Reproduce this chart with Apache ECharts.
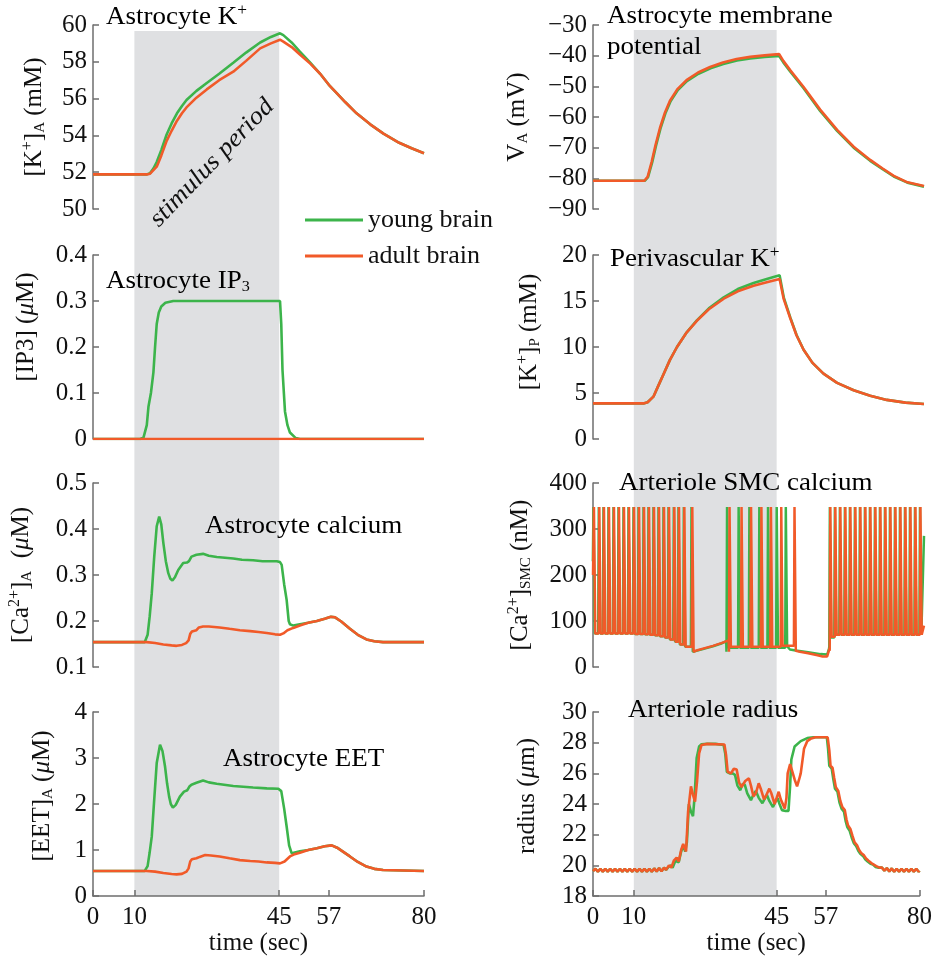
<!DOCTYPE html>
<html>
<head>
<meta charset="utf-8">
<script src="https://cdn.jsdelivr.net/npm/echarts@6/dist/echarts.min.js"></script>
<style>
  html, body { margin: 0; padding: 0; background: #fff; }
  #main { width: 935px; height: 958px; }
</style>
</head>
<body>
<div id="main"></div>
<script>
// ---- data: [time (s), value] ----
const timeTicks = [0, 10, 45, 57, 80];
const stimulus = [10, 45];

const kA_young = [[0,51.88],[13,51.88],[13.8,51.95],[14.6,52.2],[15.4,52.55],[16.5,53.2],[17.8,54.05],[19,54.65],[20.3,55.2],[21.5,55.6],[22.6,55.92],[25,56.42],[27.5,56.85],[30.5,57.35],[33.9,57.95],[37,58.5],[40.4,59.05],[43,59.35],[45.2,59.55],[46,59.45],[48,59.05],[50,58.55],[52.5,57.95],[54.9,57.35],[57,56.75],[58.9,56.3],[61,55.8],[63.7,55.2],[67,54.6],[70.2,54.1],[74,53.6],[77,53.3],[80,53.03]];
const kA_adult = [[0,51.88],[13,51.88],[13.8,51.92],[15.4,52.3],[16.5,52.9],[17.8,53.7],[19,54.25],[20.3,54.8],[21.5,55.2],[22.6,55.52],[25,56.05],[27.5,56.5],[30.5,57.0],[33.9,57.46],[37,58.05],[40.4,58.73],[43,59.0],[45.2,59.2],[46,59.1],[48,58.8],[50,58.4],[52.5,57.9],[54.9,57.35],[57,56.75],[58.9,56.3],[61,55.8],[63.7,55.2],[67,54.6],[70.2,54.1],[74,53.6],[77,53.3],[80,53.03]];

const vA_young = [[0,-80.8],[12.5,-80.8],[13.3,-79.6],[14.3,-74.8],[15.2,-69.5],[16.3,-63.8],[17.5,-58.8],[18.7,-55.0],[20.5,-51.2],[22.7,-48.3],[25.5,-45.9],[28.4,-44.1],[31.5,-42.7],[34.8,-41.6],[38,-40.9],[41.5,-40.4],[45,-40.1],[46,-42.2],[47.7,-45.2],[50.9,-50.6],[54.9,-58.0],[59,-64.5],[63,-70.0],[67,-74.3],[70,-77.0],[72.7,-79.4],[76,-81.4],[80,-82.7]];
const vA_adult = [[0,-80.8],[12.4,-80.8],[13.2,-79.5],[14.2,-74.5],[15.1,-69.2],[16.2,-63.5],[17.4,-58.5],[18.6,-54.7],[20.4,-50.9],[22.6,-48.0],[25.4,-45.5],[28.3,-43.7],[31.4,-42.2],[34.7,-41.1],[38,-40.4],[41.5,-39.9],[45,-39.5],[46,-41.7],[47.7,-44.8],[50.9,-50.2],[54.9,-57.6],[59,-64.2],[63,-69.7],[67,-74.0],[70,-76.8],[72.7,-79.2],[76,-81.3],[80,-82.5]];

const ip3_young = [[0,0],[11.4,0],[12.2,0.003],[13,0.03],[13.4,0.07],[14,0.1],[14.6,0.145],[15,0.2],[15.4,0.25],[15.9,0.275],[16.5,0.288],[17.5,0.296],[19.4,0.3],[45.2,0.3],[45.5,0.25],[45.8,0.15],[46.4,0.06],[47,0.03],[47.6,0.014],[49,0.002],[50,0],[80,0]];
const ip3_adult = [[0,0],[80,0]];

const kP_young = [[0,3.87],[12.2,3.87],[13.2,4.0],[14.6,4.6],[15.8,5.8],[17.1,7.1],[18.6,8.6],[20.3,10.0],[22.5,11.5],[25.1,12.9],[28,14.2],[31.6,15.4],[35,16.3],[38.8,16.95],[42,17.4],[45.1,17.8],[46.1,15.4],[47.7,13.2],[49.2,11.3],[50.9,9.7],[53,8.3],[55.7,7.1],[59,6.1],[63,5.3],[67,4.7],[71,4.25],[75.5,3.95],[80,3.8]];
const kP_adult = [[0,3.87],[12.2,3.87],[13.2,4.0],[14.6,4.6],[15.8,5.8],[17.1,7.1],[18.6,8.6],[20.3,10.0],[22.5,11.5],[25.1,12.85],[28,14.1],[31.6,15.25],[35,16.05],[38.8,16.65],[42,17.05],[45.1,17.4],[46.1,15.2],[47.7,13.1],[49.2,11.25],[50.9,9.7],[53,8.3],[55.7,7.1],[59,6.1],[63,5.3],[67,4.7],[71,4.25],[75.5,3.95],[80,3.8]];

const caA_young = [[0,0.154],[12.5,0.154],[13.2,0.17],[13.7,0.21],[14.2,0.26],[14.8,0.34],[15.4,0.406],[16.0,0.427],[16.5,0.41],[17.0,0.37],[17.6,0.33],[18.2,0.304],[18.7,0.292],[19.2,0.288],[19.8,0.295],[20.6,0.311],[21.8,0.326],[22.7,0.327],[23.2,0.33],[23.8,0.34],[25,0.344],[26.6,0.346],[28,0.342],[29.9,0.339],[33.9,0.336],[36,0.333],[38.7,0.332],[41,0.33],[44.4,0.33],[45.2,0.328],[45.6,0.322],[46.2,0.28],[46.8,0.246],[47.3,0.2],[47.6,0.193],[48.4,0.19],[50,0.193],[52,0.196],[54.1,0.2],[56,0.205],[57.5,0.209],[58.5,0.208],[60,0.199],[62.1,0.183],[64,0.17],[66.1,0.16],[68,0.156],[70.1,0.154],[80,0.154]];
const caA_adult = [[0,0.154],[13,0.154],[15,0.152],[17,0.149],[19,0.147],[20.2,0.146],[21.5,0.148],[22.5,0.152],[23.1,0.158],[23.5,0.172],[23.9,0.177],[25,0.18],[25.6,0.186],[26.6,0.188],[28,0.188],[30.6,0.186],[33,0.183],[35.5,0.18],[38,0.178],[40,0.176],[42,0.174],[44,0.171],[45.2,0.17],[46,0.173],[47,0.18],[48.4,0.185],[50,0.19],[52,0.196],[54.1,0.2],[56,0.205],[57.5,0.209],[58.5,0.208],[60,0.199],[62.1,0.183],[64,0.17],[66.1,0.16],[68,0.156],[70.1,0.154],[80,0.154]];

const smcPeak = 348;
// [spike time, trough after spike]
const smcSpikes_adult = [[0.23,73],[1.52,73],[2.65,73],[3.86,73],[5.07,73],[6.28,73],[7.49,73],[8.70,73],[9.91,72],[11.12,72],[12.33,71],[13.53,70],[14.74,69],[15.95,67],[17.16,64],[18.37,60],[19.65,55],[20.78,49],[22.07,44],[24.0,33],
  [33.0,44],[35.9,44],[38.2,44],[40.7,44],[43.0,44],[45.5,46],[48.7,35],
  [57.35,66],[58.56,70],[59.77,70],[60.98,70],[62.19,70],[63.40,70],[64.61,70],[65.82,70],[67.03,70],[68.24,70],[69.45,70],[70.66,70],[71.87,70],[73.08,70],[74.29,70],[75.50,70],[76.71,70],[77.92,70],[79.13,70]];
const smcSpikes_young = [[0.11,73],[1.40,73],[2.53,73],[3.74,73],[4.95,73],[6.16,73],[7.37,73],[8.58,73],[9.79,72],[11.0,72],[12.21,71],[13.41,70],[14.62,69],[15.83,67],[17.04,64],[18.25,60],[19.53,55],[20.66,49],[21.95,44],[23.8,33],
  [32.4,42],[35.2,42],[37.8,42],[40.2,42],[42.3,42],[44.4,42],[46.6,45],
  [57.25,64],[58.46,70],[59.67,70],[60.88,70],[62.09,70],[63.30,70],[64.51,70],[65.72,70],[66.93,70],[68.14,70],[69.35,70],[70.56,70],[71.77,70],[72.98,70],[74.19,70],[75.40,70],[76.61,70],[77.82,70],[79.03,70]];
// slow parts between bursts
const smcQuiet_adult = [[0,200],[25,36],[27,41],[29,46],[31,52],[32.8,58],[50,33],[52,30],[54,26],[55.5,23],[56.6,23],[57.15,40],[80,90]];
const smcQuiet_young = [[0,230],[25,35],[27,40],[29,45],[31,51],[32.2,56],[47.3,44],[47.6,38],[49,36],[52,32],[55,28],[56.6,27],[57.05,40],[79.8,70],[80,285]];

const radiusBaseStart = [[0,19.62],[0.6,19.78],[1.2,19.58],[1.8,19.78],[2.4,19.58],[3.0,19.78],[3.6,19.58],[4.2,19.78],[4.8,19.58],[5.4,19.78],[6.0,19.58],[6.6,19.78],[7.2,19.58],[7.8,19.78],[8.4,19.58],[9.0,19.78],[9.6,19.58],[10.2,19.78],[10.8,19.58],[11.4,19.78],[12.0,19.58],[12.6,19.78],[13.2,19.58],[13.8,19.78],[14.4,19.58],[15.0,19.8],[15.6,19.6],[16.2,19.82],[16.8,19.62],[17.4,19.85],[17.9,19.7]];
const radiusBaseEnd = [[70.8,19.85],[71.4,19.65],[72,19.82],[72.6,19.6],[73.2,19.8],[73.8,19.58],[74.4,19.78],[75,19.58],[75.6,19.78],[76.2,19.58],[76.8,19.78],[77.4,19.58],[78,19.78],[78.6,19.58],[79.2,19.78],[79.8,19.58],[80,19.65]];
const radiusMid_young = [[18.5,19.9],[19.1,20.0],[19.5,19.85],[20.2,20.3],[20.6,20.4],[21.0,20.2],[21.6,20.9],[22.1,21.3],[22.6,20.9],[23.0,21.5],[23.5,24.0],[24.0,23.5],[24.5,23.2],[24.9,24.5],[25.4,27.0],[26.0,27.75],[26.6,27.9],[28,27.92],[30,27.92],[32.0,27.85],[32.4,27.3],[32.8,26.1],[33.5,26.0],[34.2,26.0],[34.8,25.9],[35.4,25.2],[36.1,24.9],[36.6,25.3],[37.2,25.25],[37.8,24.7],[38.7,24.25],[39.3,24.6],[39.9,24.85],[40.6,24.4],[41.5,24.05],[42.0,24.3],[42.6,24.6],[43.2,24.2],[44.1,23.8],[44.6,24.1],[45.2,24.4],[45.7,24.0],[46.3,23.6],[47.2,23.55],[47.9,23.55],[48.3,25.2],[48.6,26.9],[49.4,27.75],[50.9,28.1],[52.5,28.3],[54,28.35],[57.3,28.35],[57.6,27.6],[57.9,26.5],[58.5,26.3],[58.9,25.6],[59.3,25.0],[59.9,24.8],[60.4,24.1],[60.9,23.7],[61.5,23.5],[61.9,22.9],[62.3,22.5],[62.9,22.25],[63.4,21.8],[63.9,21.45],[64.5,21.25],[65.0,20.95],[65.5,20.75],[66.2,20.6],[66.7,20.4],[67.3,20.25],[68,20.1],[68.6,20.05],[69.2,19.9],[70,19.85]];
const radiusMid_adult = [[18.6,20.0],[19.2,19.85],[19.8,20.3],[20.5,20.5],[21.0,20.25],[21.6,21.0],[22.1,21.4],[22.8,20.9],[23.3,23.5],[24.0,25.15],[24.5,24.6],[25.0,24.15],[25.5,25.5],[26.0,27.3],[26.6,27.85],[28,27.92],[32.2,27.88],[32.6,27.2],[33.0,26.1],[33.8,26.0],[34.5,26.3],[35.2,26.25],[35.8,25.4],[36.4,25.1],[37.3,25.5],[38.2,25.68],[38.7,25.2],[39.3,24.5],[39.9,24.7],[40.6,25.35],[41.1,25.0],[41.9,24.3],[42.5,24.6],[43.2,25.0],[43.7,24.7],[44.5,24.0],[45.0,24.4],[45.5,24.8],[46.0,24.3],[47.0,23.7],[47.4,24.4],[47.7,26.0],[48.3,26.6],[48.7,26.5],[49.4,25.6],[50.0,25.15],[50.5,25.6],[50.9,26.0],[51.7,27.6],[52.5,28.1],[53.3,28.25],[54.5,28.35],[57.5,28.35],[57.9,27.5],[58.2,26.5],[58.7,26.35],[59.1,25.7],[59.5,25.1],[60.1,24.85],[60.6,24.2],[61.1,23.8],[61.7,23.6],[62.1,23.0],[62.5,22.6],[63.1,22.35],[63.6,21.9],[64.1,21.5],[64.7,21.3],[65.2,21.0],[65.7,20.8],[66.4,20.65],[66.9,20.45],[67.5,20.3],[68.2,20.15],[68.8,20.05],[69.4,19.95],[70.2,19.85]];

const eet_young = [[0,0.545],[12.5,0.545],[13.2,0.65],[13.7,0.95],[14.2,1.29],[14.8,2.1],[15.4,2.89],[16.2,3.29],[16.8,3.15],[17.4,2.82],[17.9,2.45],[18.4,2.16],[18.8,2.0],[19.3,1.92],[20,1.98],[21,2.16],[22.0,2.27],[22.8,2.30],[23.3,2.38],[23.8,2.42],[25,2.46],[26.6,2.51],[28,2.47],[29.9,2.44],[33.9,2.39],[38.7,2.36],[42,2.34],[44.8,2.33],[45.5,2.28],[46.2,1.9],[46.8,1.51],[47.4,1.1],[48,0.93],[50,0.97],[52,1.0],[54.1,1.04],[56,1.08],[57.7,1.10],[59,1.05],[60.5,0.96],[62.1,0.86],[64,0.74],[66.1,0.64],[68,0.59],[70.1,0.565],[80,0.545]];
const eet_adult = [[0,0.545],[13,0.545],[15,0.53],[17,0.5],[19,0.48],[20.2,0.47],[21.5,0.48],[22.6,0.53],[23.1,0.6],[23.5,0.75],[23.9,0.8],[25,0.82],[25.8,0.85],[27.1,0.89],[28.5,0.88],[30.6,0.86],[33,0.82],[35.5,0.78],[38,0.76],[40,0.75],[42,0.73],[44,0.72],[45.2,0.71],[46.3,0.75],[47.6,0.86],[48.5,0.9],[50,0.94],[52,1.0],[54.1,1.04],[56,1.08],[57.7,1.10],[59,1.05],[60.5,0.96],[62.1,0.86],[64,0.74],[66.1,0.64],[68,0.59],[70.1,0.565],[80,0.545]];

// spike train -> polyline (rise, peak, fall) merged with the slow parts
function spikeLine(spikes, quiet) {
  let pts = quiet.slice();
  let prev = quiet[0][1];
  spikes.forEach(function (s) {
    pts.push([s[0] - 0.14, prev], [s[0], smcPeak], [s[0] + 0.32, s[1]]);
    prev = s[1];
  });
  return pts.sort(function (a, b) { return a[0] - b[0]; });
}

const GREEN = "#3cb44b";
const ORANGE = "#f15a29";
const FONT = "Liberation Serif";
const FS = 25;

const cols = [93, 593];
const rowTops = [25, 255, 483, 712];
const plotW = 331, plotH = 184;

const yAxes = [
  { min: 50, max: 60, interval: 2, name: "{t|[K}{sup|+}{t|]}{sub|A}{t| (mM)}", gap: 45 },
  { min: -90, max: -30, interval: 10, name: "{t|V}{sub|A}{t| (mV)}", gap: 62 },
  { min: 0, max: 0.4, interval: 0.1, name: "{t|[IP3] (}{mu|μ}{t|M)}", gap: 53, pad: 40 },
  { min: 0, max: 20, interval: 5, name: "{t|[K}{sup|+}{t|]}{sub|P}{t| (mM)}", gap: 50, pad: 30 },
  { min: 0.1, max: 0.5, interval: 0.1, name: "{t|[Ca}{sup|2+}{t|]}{sub|A}{t|  (}{mu|μ}{t|M)}", gap: 58 },
  { min: 0, max: 400, interval: 100, name: "{t|[Ca}{sup|2+}{t|]}{sub|SMC}{t| (nM)}", gap: 59 },
  { min: 0, max: 4, interval: 1, name: "{t|[EET]}{sub|A}{t| (}{mu|μ}{t|M)}", gap: 37, pad: 16 },
  { min: 18, max: 30, interval: 2, name: "{t|radius (}{mu|μ}{t|m)}", gap: 52, pad: 16 }
];

const seriesData = [
  [kA_young, kA_adult],
  [vA_young, vA_adult],
  [ip3_young, ip3_adult],
  [kP_young, kP_adult],
  [caA_young, caA_adult],
  [spikeLine(smcSpikes_young, smcQuiet_young), spikeLine(smcSpikes_adult, smcQuiet_adult)],
  [eet_young, eet_adult],
  [radiusBaseStart.concat(radiusMid_young, radiusBaseEnd), radiusBaseStart.concat(radiusMid_adult, radiusBaseEnd)]
];

const rich = {
  t: { fontFamily: FONT, fontSize: FS, color: "#111", lineHeight: 28 },
  tl: { fontFamily: FONT, fontSize: FS, color: "#111", lineHeight: 31 },
  sup: { fontFamily: FONT, fontSize: 16, color: "#111", lineHeight: 17, verticalAlign: "top" },
  sub: { fontFamily: FONT, fontSize: 15, color: "#111", lineHeight: 15, verticalAlign: "bottom" },
  mu: { fontFamily: FONT, fontSize: FS, fontStyle: "italic", color: "#111", lineHeight: 28 }
};

const grids = [], xAxis = [], yAxis = [], series = [];
for (let i = 0; i < 8; i++) {
  const col = i % 2, row = Math.floor(i / 2);
  grids.push({ left: cols[col], top: rowTops[row], width: plotW, height: plotH, containLabel: false });
  const bottom = row === 3;
  xAxis.push({
    type: "value", gridIndex: i, min: 0, max: 80, show: bottom,
    axisLine: { show: true, lineStyle: { color: "#6e6e6e", width: 1.5 } },
    axisTick: { show: true, inside: true, length: 6, customValues: timeTicks, lineStyle: { color: "#6e6e6e", width: 1.5 } },
    axisLabel: { customValues: timeTicks, margin: 9, fontFamily: FONT, fontSize: FS, color: "#111" },
    splitLine: { show: false },
    name: bottom ? "time (sec)" : "", nameLocation: "middle", nameGap: 31,
    nameTextStyle: { fontFamily: FONT, fontSize: FS, color: "#111" }
  });
  const ya = yAxes[i];
  yAxis.push({
    type: "value", gridIndex: i, min: ya.min, max: ya.max, interval: ya.interval,
    axisLine: { show: true, lineStyle: { color: "#6e6e6e", width: 1.5 } },
    axisTick: { show: true, inside: true, length: 6, lineStyle: { color: "#6e6e6e", width: 1.5 } },
    axisLabel: {
      margin: 6, fontFamily: FONT, fontSize: FS, color: "#111",
      formatter: function (v) { return String(Math.round(v * 1000) / 1000).replace("-", "\u2212"); }
    },
    splitLine: { show: false },
    name: ya.name, nameLocation: "middle", nameRotate: 90, nameGap: ya.gap,
    nameTextStyle: { rich: rich, padding: [0, 0, 0, ya.pad || 0] }
  });
  const names = ["young brain", "adult brain"];
  const colors = [GREEN, ORANGE];
  for (let k = 0; k < 2; k++) {
    series.push({
      type: "line", name: names[k], xAxisIndex: i, yAxisIndex: i,
      data: seriesData[i][k], showSymbol: false, symbol: "none",
      lineStyle: { color: colors[k], width: i === 5 ? 2.5 : 2.6 },
      itemStyle: { color: colors[k] },
      z: 3 + k
    });
  }
}

const titles = [
  { x: 106, y: 17, text: "{t|Astrocyte K}{sup|+}" },
  { x: 607, y: 17, text: "{tl|Astrocyte membrane}\n{tl|potential}", two: true },
  { x: 106, y: 281, text: "{t|Astrocyte IP}{sub|3}" },
  { x: 610, y: 259, text: "{t|Perivascular K}{sup|+}" },
  { x: 205, y: 526, text: "{t|Astrocyte calcium}" },
  { x: 619, y: 483, text: "{t|Arteriole SMC calcium}" },
  { x: 223, y: 759, text: "{t|Astrocyte EET}" },
  { x: 628, y: 710, text: "{t|Arteriole radius}" }
];

const option = {
  animation: false,
  backgroundColor: "#fff",
  grid: grids,
  xAxis: xAxis,
  yAxis: yAxis,
  series: series,
  legend: {
    data: ["young brain", "adult brain"],
    orient: "vertical", left: 300, top: 201,
    icon: "rect", itemWidth: 58, itemHeight: 3, itemGap: 8,
    textStyle: { fontFamily: FONT, fontSize: 26, color: "#111", lineHeight: 28 }
  }
};

const chart = echarts.init(document.getElementById("main"));
chart.setOption(option);

// stimulus shading spans all four rows of each column
const graphics = [];
[0, 1].forEach(function (col) {
  const x0 = chart.convertToPixel({ xAxisIndex: 6 + col }, stimulus[0]);
  const x1 = chart.convertToPixel({ xAxisIndex: 6 + col }, stimulus[1]);
  const yb = chart.convertToPixel({ yAxisIndex: 6 + col }, yAxes[6 + col].min);
  const yt = rowTops[0] + 6 - col;
  graphics.push({
    type: "rect", z: 0, silent: true,
    shape: { x: x0, y: yt, width: x1 - x0, height: yb - yt },
    style: { fill: "#dfe0e2" }
  });
});
titles.forEach(function (t) {
  graphics.push({
    type: "text", z: 10, x: t.x, y: t.two ? 1 : t.y, scaleX: 1.08,
    style: { text: t.text, rich: rich, verticalAlign: t.two ? "top" : "middle", align: "left" }
  });
});
graphics.push({
  type: "text", z: 10, x: 212, y: 163, rotation: 46 * Math.PI / 180, scaleX: 1.08,
  style: { text: "stimulus period", font: "italic 25px 'Liberation Serif'", fill: "#111", align: "center", verticalAlign: "middle" }
});
chart.setOption({ graphic: graphics });
</script>
</body>
</html>
